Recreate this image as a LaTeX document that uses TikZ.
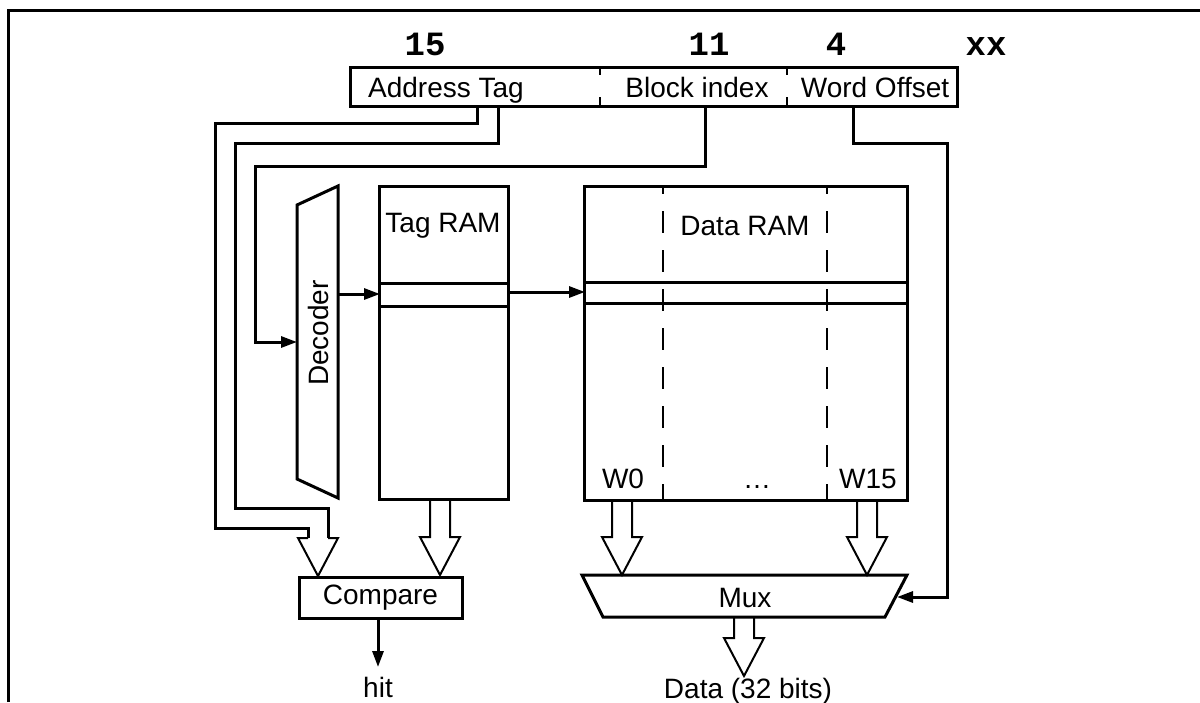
\documentclass[tikz,border=0pt]{standalone}
\usepackage{fontspec}
\setmainfont{Liberation Sans}
\newfontfamily\bitfont{Liberation Mono}
\usetikzlibrary{arrows.meta,calc}

\tikzset{
  wire/.style={line width=3pt, line join=miter},
  sig/.style={wire, -{Triangle[length=16pt,width=11pt]}},
  thin/.style={line width=2pt, line join=miter},
  block/.style={draw, line width=3pt, inner sep=0pt},
  txt/.style={font=\fontsize{28}{30}\selectfont, inner sep=0pt},
  bit/.style={font=\bitfont\bfseries\fontsize{34}{36}\selectfont, inner sep=0pt, anchor=base},
  column/.style={line width=2.8pt, dash pattern=on 22pt off 17pt, dash phase=14pt},
  field/.style={line width=2.6pt, dash pattern=on 8pt off 22pt},
  pics/hollow/.style={code={
    \draw[thin] (-10,-#1) -- (-10,0) -- (-20,0) -- (0,38) -- (20,0) -- (10,0) -- (10,-#1);
  }},
}

\begin{document}
\begin{tikzpicture}[x=1pt, y=-1pt]
\useasboundingbox (0,0) rectangle (1200,702);

% frame
\draw[line width=3pt] (8,702) -- (8,10) -- (1200,10);

% bit positions
\node[bit] (b15) at (425,55) {15};
\node[bit] (b11) at (709,55) {11};
\node[bit] (b4)  at (836,55) {4};
\node[bit] (bxx) at (986,55) {xx};

% address fields
\node[block, minimum width=607pt, minimum height=39pt] (addr) at (653.5,86.5) {};
\draw[field] (600,67) -- (600,106);
\draw[field] (787,67) -- (787,106);
\node[txt, anchor=base] (ftag) at (446,97) {Address Tag};
\node[txt, anchor=base] (fidx) at (697,97) {Block index};
\node[txt, anchor=base] (foff) at (875,97) {Word Offset};
\coordinate (tagA) at (477,106);
\coordinate (tagB) at (498,106);
\coordinate (idx)  at (705,106);
\coordinate (off)  at (853,106);

% decoder
\draw[wire] (297,205) -- (338,186) -- (338,498) -- (297,479) -- cycle;
\node[txt, rotate=90] (dec) at (318,333) {Decoder};
\coordinate (decin)  at (297,342);
\coordinate (decout) at (338,294);

% tag RAM
\node[block, minimum width=129pt, minimum height=313pt] (tag) at (443.5,342.5) {};
\node[block, minimum width=129pt, minimum height=23pt] (tagrow) at (443.5,295) {};
\node[txt] (tagl) at (443,226) {Tag RAM};

% data RAM
\node[block, minimum width=323pt, minimum height=314pt] (data) at (745.5,343) {};
\node[block, minimum width=323pt, minimum height=21pt] (datarow) at (745.5,292.5) {};
\draw[column] (663,186) -- (663,500);
\draw[column] (827,186) -- (827,500);
\node[txt] (datal) at (745,226) {Data RAM};
\node[txt, anchor=base] (w0)  at (623,488) {W0};
\node[txt, anchor=base] (w15) at (868,488) {W15};
\node[txt, anchor=base] (dots) at (757,488) {\ldots};

% compare
\node[block, minimum width=163pt, minimum height=41pt] (cmp) at (380.5,597.5) {};
\node[txt] at (cmp.center) {Compare};
\coordinate (hitend) at (378,667);
\node[txt, anchor=base] (hit) at (378,697) {hit};

% mux
\draw[wire] (582,575) -- (907,575) -- (885,617) -- (603,617) -- cycle;
\node[txt] (mux) at (745,598) {Mux};
\coordinate (muxin) at (897,597);
\node[txt, anchor=base] (dout) at (748,698) {Data (32 bits)};

% address tag and index lines
\draw[wire] (tagA) -- (477,123) -- (215,123) -- (215,528) -- (308,528) -- (308,538);
\draw[wire] (tagB) -- (498,143) -- (235,143) -- (235,508) -- (328,508) -- (328,538);
\draw[sig] (idx) -- (705,166) -- (255,166) -- (255,342) -- (decin);
\draw[sig] (off) -- (853,143) -- (947,143) -- (947,597) -- (muxin);

% row select
\draw[sig] (decout) -- (380,294);
\draw[sig] (508,292) -- (585,292);

% buses
\pic at (318,538) {hollow=0};
\pic at (440,537) {hollow=38};
\pic at (622,537) {hollow=37};
\pic at (867,537) {hollow=37};
\pic at (744,638) {hollow=21};

\draw[sig] (cmp.south -| hitend) -- (hitend);
\end{tikzpicture}
\end{document}
